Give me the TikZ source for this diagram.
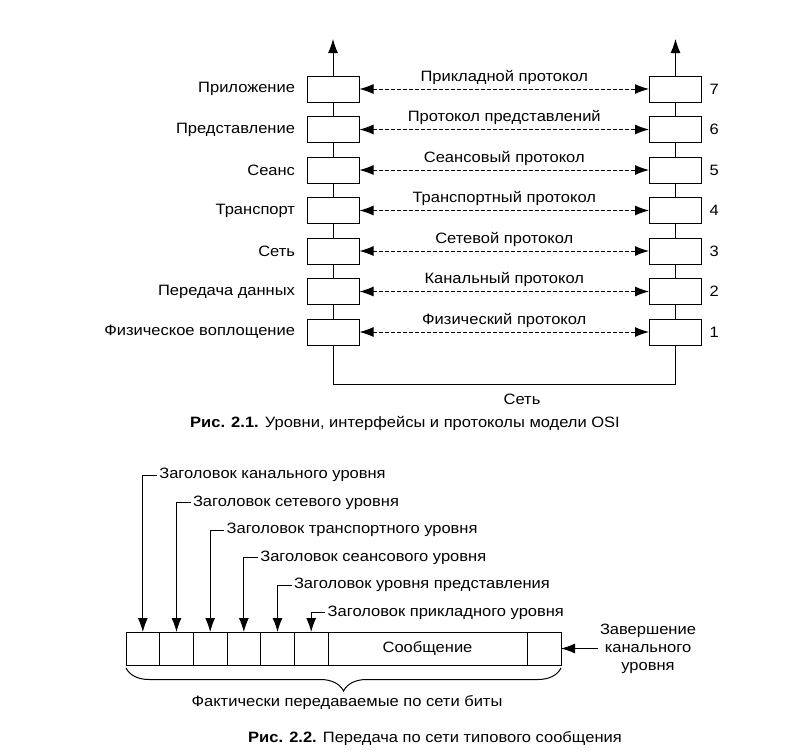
\documentclass[tikz,border=0pt]{standalone}
\usepackage{fontspec}
\setmainfont{Liberation Sans}[FakeStretch=1.1]
\usetikzlibrary{positioning}
\usetikzlibrary{arrows.meta}
\usetikzlibrary{decorations.pathreplacing}
\tikzset{layer/.style={draw,minimum width=52pt,minimum height=26pt,inner sep=0pt},
	lbl/.style={inner sep=1pt},
	proto/.style={<->,dash pattern=on 3.5pt off 2.5pt},
	cell/.style={draw,minimum width=33.67pt,minimum height=33pt,inner sep=0pt,outer sep=0pt},
	hdr/.style={inner sep=2pt,anchor=west},}

\begin{document}
\begin{tikzpicture}[x=1pt,y=-1pt,font=\fontsize{15}{18}\selectfont,
	>={Latex[length=14pt,width=10pt]},line width=1pt]
	\useasboundingbox (0,0) rectangle (796,755);
	% Рис. 2.1
	\foreach \i/\name/\proto in {1/Физическое воплощение/Физический протокол,
		2/Передача данных/Канальный протокол,
		3/Сеть/Сетевой протокол,
		4/Транспорт/Транспортный протокол,
		5/Сеанс/Сеансовый протокол,
		6/Представление/Протокол представлений,
		7/Приложение/Прикладной протокол}{
		\node[layer] (L\i) at (333,{332-(\i-1)*40.5}) {};
		\node[layer] (R\i) at (675.5,{332-(\i-1)*40.5}) {};
		\node[lbl, left=10pt of L\i] (n\i) {\name};
		\node[lbl, right=6pt of R\i] (k\i) {\i};
		\draw[proto] (L\i) -- node[lbl, above=3pt] (p\i) {\proto} (R\i);
	}
	\foreach \i [evaluate=\i as \j using int(\i+1)] in {1,...,6}{
		\draw (L\i) -- (L\j);
		\draw (R\i) -- (R\j);
	}
	\coordinate (topL) at (333,39);
	\coordinate (topR) at (675.5,39);
	\draw[->] (L7) -- (topL);
	\draw[->] (R7) -- (topR);
	\coordinate (netL) at (333,384);
	\draw (L1) -- (netL) -| (R1);
	\node (net) at (522,399) {Сеть};
	\node (cap1) at (405,423) {\textbf{Рис. 2.1.} Уровни, интерфейсы и протоколы модели OSI};
	
	% Рис. 2.2
	\foreach \i in {1,...,6}
		\node[cell] (h\i) at ({126+(\i-0.5)*33.67},648.5) {};
	\node[cell, minimum width=199pt, right=0pt of h6] (msg) {Сообщение};
	\node[cell, minimum width=34pt, right=0pt of msg] (tail) {};
	\foreach \i/\name in {1/Заголовок канального уровня,
		2/Заголовок сетевого уровня,
		3/Заголовок транспортного уровня,
		4/Заголовок сеансового уровня,
		5/Заголовок уровня представления,
		6/Заголовок прикладного уровня}{
		\node[hdr] (t\i) at ({126+(\i-0.5)*33.67+14},{475+(\i-1)*27.5}) {\name};
		\draw[->] (t\i.west) -| (h\i.north);
	}
	\coordinate (endA) at (598,648.5);
	\draw[->] (endA) -- (tail.east);
	\node[align=center] (endT) at (648,649) {Завершение\\канального\\уровня};
	\draw[decorate,decoration={brace,mirror,amplitude=23pt}]
		([yshift=-3pt]h1.south west) -- ([yshift=-3pt]tail.south east);
	\node (bits) at (347,703) {Фактически передаваемые по сети биты};
	\node (cap2) at (435,739) {\textbf{Рис. 2.2.} Передача по сети типового сообщения};
\end{tikzpicture}
\end{document}
